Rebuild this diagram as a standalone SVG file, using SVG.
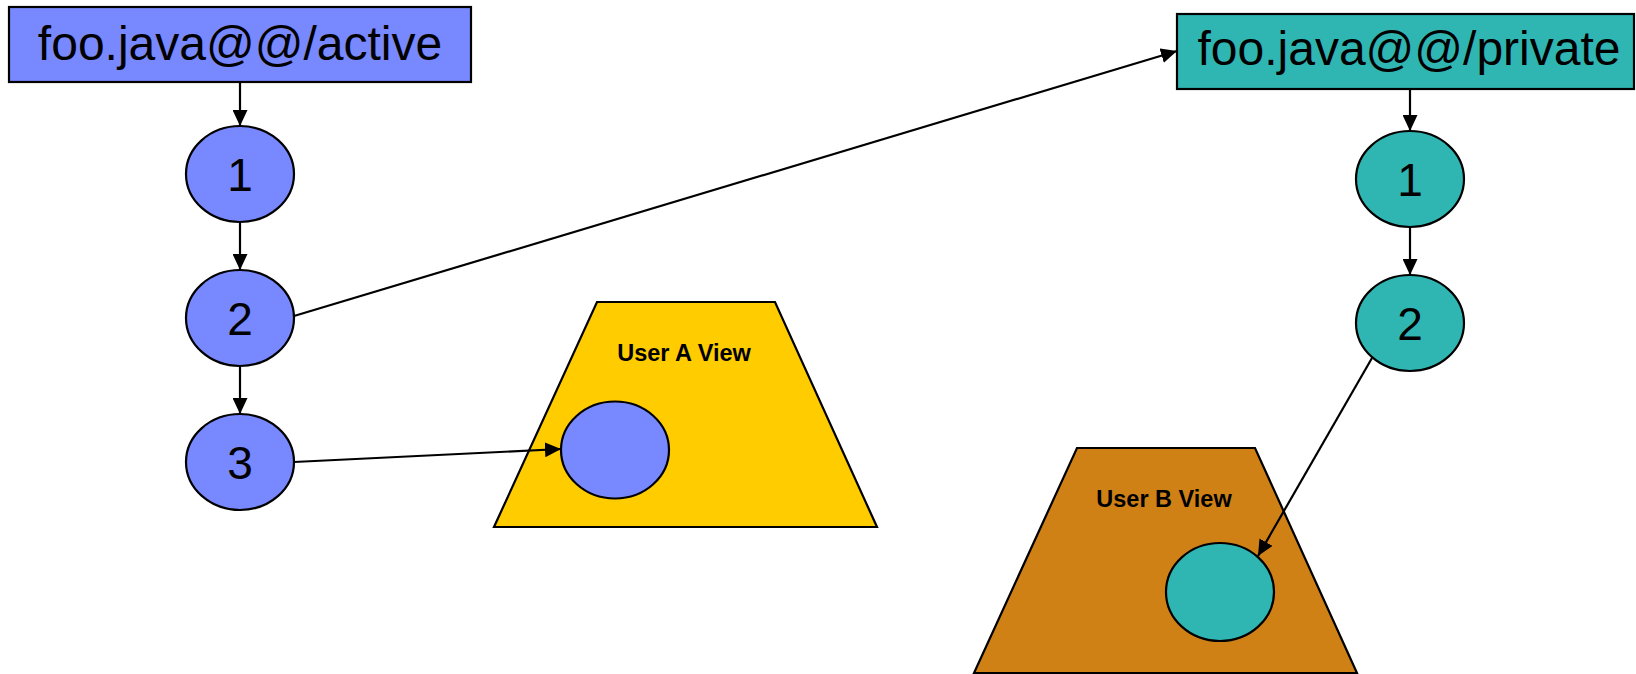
<svg xmlns="http://www.w3.org/2000/svg" width="1636" height="674" viewBox="0 0 1636 674">
  <defs>
    <marker id="arrow" markerUnits="userSpaceOnUse" markerWidth="16" markerHeight="15" refX="16" refY="7.5" orient="auto">
      <path d="M0,0 L16,7.5 L0,15 Z" fill="#000"/>
    </marker>
  </defs>
  <style>
    .shape { stroke: #000; stroke-width: 2.2; }
    .blue { fill: #7888FF; }
    .teal { fill: #2FB6B3; }
    .yellow { fill: #FFCC00; }
    .brown { fill: #D08116; }
    .title { font-family: "Liberation Sans", Arial, sans-serif; font-size: 48px; fill: #000; text-anchor: middle; }
    .num { font-family: "Liberation Sans", Arial, sans-serif; font-size: 46px; fill: #000; text-anchor: middle; }
    .view { font-family: "Liberation Sans", Arial, sans-serif; font-size: 23.5px; font-weight: bold; fill: #000; text-anchor: middle; }
    .conn { stroke: #000; stroke-width: 2.2; fill: none; marker-end: url(#arrow); }
  </style>
  <rect width="1636" height="674" fill="#fff"/>

  <!-- views (drawn first so nodes sit on top) -->
  <g id="view-a">
    <polygon class="shape yellow" points="597,302 775,302 877,527 494,527"/>
    <text class="view" x="684" y="361">User A View</text>
  </g>
  <g id="view-b">
    <polygon class="shape brown" points="1077,448 1255,448 1357,673 974,673"/>
    <text class="view" x="1164" y="507">User B View</text>
  </g>

  <!-- active branch -->
  <g id="branch-active">
    <rect class="shape blue" x="9" y="7" width="462" height="75"/>
    <text class="title" x="240" y="60">foo.java@@/active</text>
  </g>
  <g id="active-1">
    <ellipse class="shape blue" cx="240" cy="174" rx="54" ry="48"/>
    <text class="num" x="240" y="191">1</text>
  </g>
  <g id="active-2">
    <ellipse class="shape blue" cx="240" cy="318" rx="54" ry="48"/>
    <text class="num" x="240" y="335">2</text>
  </g>
  <g id="active-3">
    <ellipse class="shape blue" cx="240" cy="462" rx="54" ry="48"/>
    <text class="num" x="240" y="479">3</text>
  </g>
  <g id="view-a-element">
    <ellipse class="shape blue" cx="615" cy="450" rx="54" ry="48.5"/>
  </g>

  <!-- private branch -->
  <g id="branch-private">
    <rect class="shape teal" x="1177" y="14" width="457" height="75"/>
    <text class="title" x="1409" y="65">foo.java@@/private</text>
  </g>
  <g id="private-1">
    <ellipse class="shape teal" cx="1410" cy="179" rx="54" ry="48"/>
    <text class="num" x="1410" y="196">1</text>
  </g>
  <g id="private-2">
    <ellipse class="shape teal" cx="1410" cy="323" rx="54" ry="48"/>
    <text class="num" x="1410" y="340">2</text>
  </g>
  <g id="view-b-element">
    <ellipse class="shape teal" cx="1220" cy="592" rx="54" ry="49"/>
  </g>

  <!-- connectors -->
  <g id="connectors">
    <line class="conn" x1="240" y1="82" x2="240" y2="126"/>
    <line class="conn" x1="240" y1="222" x2="240" y2="270"/>
    <line class="conn" x1="240" y1="366" x2="240" y2="414"/>
    <line class="conn" x1="294" y1="316" x2="1177" y2="51"/>
    <line class="conn" x1="294" y1="462" x2="561" y2="449"/>
    <line class="conn" x1="1410" y1="89" x2="1410" y2="131"/>
    <line class="conn" x1="1410" y1="227" x2="1410" y2="275"/>
    <line class="conn" x1="1372" y1="358" x2="1258" y2="556"/>
  </g>
</svg>
